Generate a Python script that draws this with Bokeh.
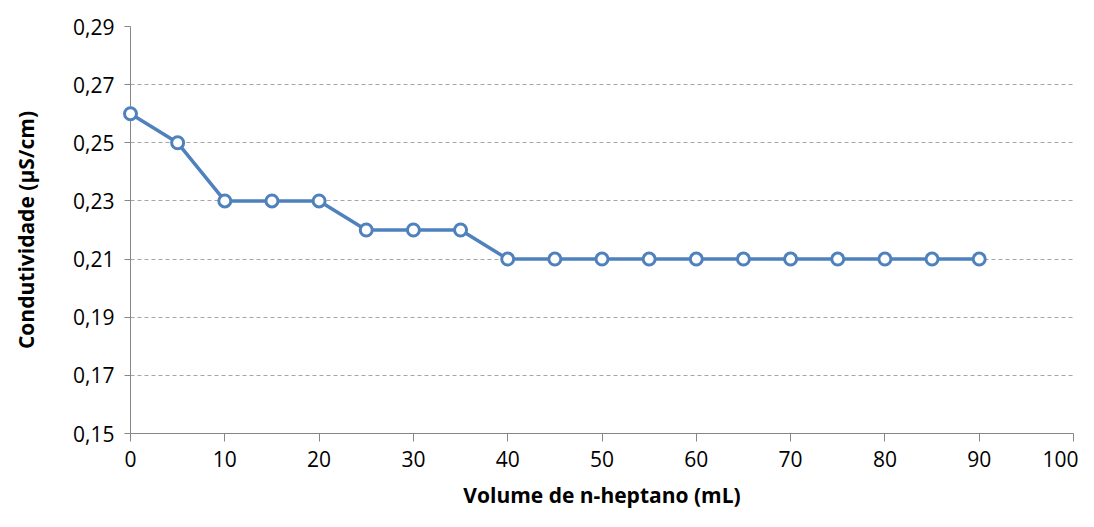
from bokeh.plotting import figure
from bokeh.models import Range1d, FixedTicker, ColumnDataSource
from bokeh.embed import file_html
from bokeh.resources import INLINE

volume = [0, 5, 10, 15, 20, 25, 30, 35, 40, 45, 50, 55, 60, 65, 70, 75, 80, 85, 90]
condutividade = [0.26, 0.25, 0.23, 0.23, 0.23, 0.22, 0.22, 0.22, 0.21, 0.21,
                 0.21, 0.21, 0.21, 0.21, 0.21, 0.21, 0.21, 0.21, 0.21]
x_ticks = [0, 10, 20, 30, 40, 50, 60, 70, 80, 90, 100]
y_ticks = [0.15, 0.17, 0.19, 0.21, 0.23, 0.25, 0.27, 0.29]
y_tick_labels = ["0,15", "0,17", "0,19", "0,21", "0,23", "0,25", "0,27", "0,29"]
x_label = "Volume de n-heptano (mL)"
y_label = "Condutividade (µS/cm)"

FONT = "Open Sans"
AXIS_COLOR = "#868686"
LINE_COLOR = "#4F81BD"

p = figure(width=1078, height=511, output_backend="svg", toolbar_location=None,
           x_range=Range1d(0, 100), y_range=Range1d(0.15, 0.29),
           min_border_left=130, min_border_right=5, min_border_top=26,
           min_border_bottom=77)
p.outline_line_color = None
p.background_fill_color = "white"
p.border_fill_color = "white"

src = ColumnDataSource(data=dict(x=volume, y=condutividade))
p.line("x", "y", source=src, line_color=LINE_COLOR, line_width=3.5, level="overlay")
p.scatter("x", "y", source=src, size=12, fill_color="white", line_color=LINE_COLOR,
          line_width=3, level="overlay")

p.xaxis.ticker = FixedTicker(ticks=x_ticks)
p.yaxis.ticker = FixedTicker(ticks=y_ticks)
p.yaxis.major_label_overrides = {t: l for t, l in zip(y_ticks, y_tick_labels)}

for ax in (p.xaxis[0], p.yaxis[0]):
    ax.axis_line_color = AXIS_COLOR
    ax.axis_line_width = 1
    ax.major_tick_line_color = AXIS_COLOR
    ax.major_tick_in = 0
    ax.minor_tick_line_color = None
    ax.major_label_text_font = FONT
    ax.major_label_text_font_size = "21px"
    ax.major_label_text_color = "#000000"
    ax.axis_label_text_font = FONT
    ax.axis_label_text_font_size = "21px"
    ax.axis_label_text_font_style = "bold"
    ax.axis_label_text_color = "#000000"

p.xaxis.major_tick_out = 8
p.yaxis.major_tick_out = 6
p.xaxis.major_label_standoff = 9
p.yaxis.major_label_standoff = 10
p.xaxis.axis_label = x_label
p.yaxis.axis_label = y_label
p.xaxis.axis_label_standoff = 11
p.yaxis.axis_label_standoff = 30

p.xgrid.grid_line_color = None
p.ygrid.ticker = FixedTicker(ticks=y_ticks)
p.ygrid.grid_line_color = "#A6A6A6"
p.ygrid.grid_line_dash = "4 3"
p.ygrid.grid_line_width = 1

open("out.html", "w").write(file_html(p, INLINE))
